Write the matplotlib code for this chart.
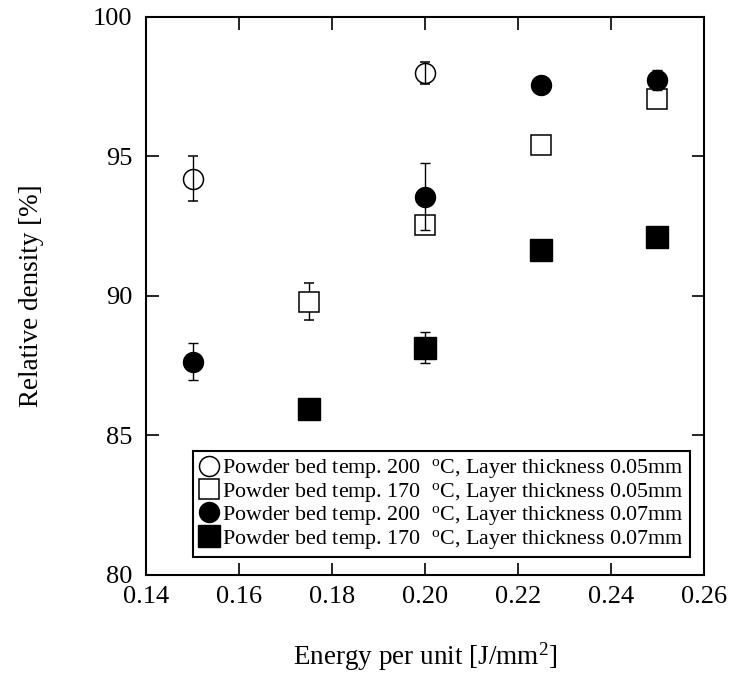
import matplotlib
matplotlib.use("Agg")
import matplotlib.pyplot as plt
from matplotlib.lines import Line2D

plt.rcParams["font.family"] = ["Liberation Serif", "DejaVu Serif"]
plt.rcParams["mathtext.fontset"] = "custom"
plt.rcParams["mathtext.rm"] = "Liberation Serif"
plt.rcParams["mathtext.it"] = "Liberation Serif:italic"

# Relative density vs. energy per unit area
x_200_005 = [0.15, 0.20]
y_200_005 = [94.2, 98.0]
e_200_005 = [0.8, 0.4]

x_170_005 = [0.175, 0.20, 0.225, 0.25]
y_170_005 = [89.8, 92.55, 95.4, 97.05]
e_170_005 = [0.65, 0.25, 0.25, 0.25]

x_200_007 = [0.15, 0.20, 0.225, 0.25]
y_200_007 = [87.65, 93.55, 97.55, 97.75]
e_200_007 = [0.65, 1.2, 0.1, 0.35]

x_170_007 = [0.175, 0.20, 0.225, 0.25]
y_170_007 = [85.95, 88.15, 91.65, 92.1]
e_170_007 = [0.1, 0.55, 0.2, 0.15]

labels = [
    r"Powder bed temp. 200  $^{\mathrm{o}}$C, Layer thickness 0.05mm",
    r"Powder bed temp. 170  $^{\mathrm{o}}$C, Layer thickness 0.05mm",
    r"Powder bed temp. 200  $^{\mathrm{o}}$C, Layer thickness 0.07mm",
    r"Powder bed temp. 170  $^{\mathrm{o}}$C, Layer thickness 0.07mm",
]

xticks = [0.14, 0.16, 0.18, 0.20, 0.22, 0.24, 0.26]
yticks = [80, 85, 90, 95, 100]

fig = plt.figure(figsize=(7.29, 6.74), dpi=100)
ax = fig.add_axes([0.2003, 0.1469, 0.7654, 0.8279])

ms_c = 14.4
ms_s = 15.8
mew_open = 1.1
ekw = dict(ecolor="black", elinewidth=1.0, capsize=3.6, capthick=1.0, linestyle="none")

# hollow symbols keep their error bars visible through the marker
ax.errorbar(x_170_007, y_170_007, yerr=e_170_007, fmt="s", ms=ms_s,
            mfc="black", mec="black", zorder=2, **ekw)
ax.errorbar(x_170_005, y_170_005, yerr=e_170_005, fmt="s", ms=ms_c,
            mfc="white", mec="black", mew=mew_open, zorder=3, **ekw)
ax.errorbar(x_200_007, y_200_007, yerr=e_200_007, fmt="o", ms=ms_c,
            mfc="black", mec="black", zorder=4, **ekw)
ax.errorbar(x_200_005, y_200_005, yerr=e_200_005, fmt="o", ms=ms_c,
            mfc="none", mec="black", mew=mew_open, zorder=5, **ekw)

ax.set_xlim(0.14, 0.26)
ax.set_ylim(80, 100)
ax.set_xticks(xticks)
ax.set_xticklabels([f"{v:.2f}" for v in xticks])
ax.set_yticks(yticks)
ax.set_yticklabels([str(v) for v in yticks])
ax.tick_params(direction="in", length=9, width=1.2, labelsize=19,
               top=True, right=True)
ax.tick_params(axis="x", pad=8)
ax.tick_params(axis="y", pad=10)
for s in ax.spines.values():
    s.set_linewidth(1.5)

ax.set_xlabel(r"Energy per unit [J/mm$^{2}$]", fontsize=19.5, labelpad=23)
ax.set_ylabel("Relative density [%]", fontsize=19.5, labelpad=35)

handles = [
    Line2D([], [], marker="o", ls="none", ms=ms_c, mfc="white", mec="black", mew=mew_open),
    Line2D([], [], marker="s", ls="none", ms=ms_c, mfc="white", mec="black", mew=mew_open),
    Line2D([], [], marker="o", ls="none", ms=ms_c, mfc="black", mec="black"),
    Line2D([], [], marker="s", ls="none", ms=ms_s, mfc="black", mec="black"),
]
leg = ax.legend(handles, labels, loc="lower left",
                bbox_to_anchor=(0.0845, 0.032), fontsize=15.8,
                handlelength=0.8, handletextpad=0.2, borderpad=0.3,
                labelspacing=0.02, fancybox=False, framealpha=1,
                edgecolor="black", borderaxespad=0)
leg.get_frame().set_linewidth(1.5)

fig.savefig("out.png", dpi=100)
